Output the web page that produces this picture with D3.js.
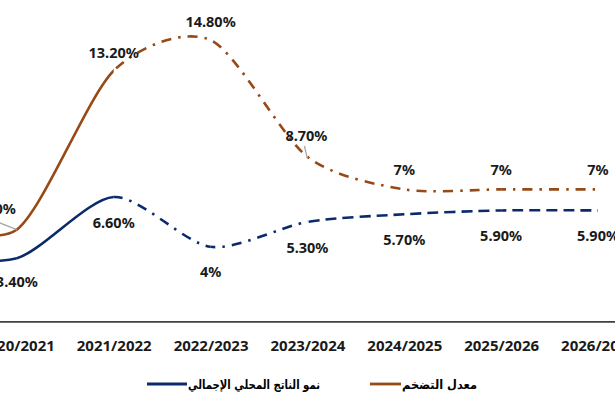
<!DOCTYPE html>
<html><head><meta charset="utf-8">
<script src="https://cdn.jsdelivr.net/npm/d3@7"></script>
<style>html,body{margin:0;padding:0;background:#fff;overflow:hidden}</style>
</head><body>
<svg id="c" width="615" height="410"></svg>
<script>
// Data (first category lies outside the visible crop)
const categories = ["2019/2020","2020/2021","2021/2022","2022/2023","2023/2024","2024/2025","2025/2026","2026/2027"];
const inflation = [5.7, 4.9, 13.2, 14.8, 8.7, 7, 7, 7];
const gdp = [3.6, 3.4, 6.6, 4, 5.3, 5.7, 5.9, 5.9];
const inflationLabels = [null, "4.90%", "13.20%", "14.80%", "8.70%", "7%", "7%", "7%"];
const gdpLabels = [null, "3.40%", "6.60%", "4%", "5.30%", "5.70%", "5.90%", "5.90%"];
const seriesNames = ["معدل التضخم", "نمو الناتج المحلي الإجمالي"];
// segment styles (segment i goes from category i to i+1)
const inflationStyles = ["solid","solid","dashdot","dashdot","dashdot","dashdot","dashdot"];
const gdpStyles = ["solid","solid","dashdot","dashdot","dash","dash","dash"];

const W = 615, H = 410;
const orange = "#974A16", blue = "#0A2A6B";
const dashes = {solid: null, dashdot: "10 7 2.5 7", dash: "11 6"};

const svg = d3.select("#c");
const x = d3.scalePoint().domain(categories).range([-80, 598]);
const y = d3.scaleLinear().domain([0, 15]).range([323.4, 36.2]);

// axis
const axis = d3.axisBottom(x).tickSize(0).tickPadding(0);
const gx = svg.append("g").attr("transform", `translate(0,${y(0)})`).call(axis);
gx.select(".domain").remove();
gx.selectAll("text").attr("font-family", "'Noto Sans', sans-serif").attr("font-weight", "bold")
  .attr("font-size", "15px").attr("fill", "#1a1a1a").attr("dy", null).attr("y", 28);
svg.append("line").attr("x1", 0).attr("x2", W).attr("y1", y(0) - 1.5).attr("y2", y(0) - 1.5)
  .attr("stroke", "#404040").attr("stroke-width", 1.8);

const defs = svg.append("defs");
for (let i = 0; i < categories.length - 1; i++) {
  defs.append("clipPath").attr("id", "seg" + i).append("rect")
    .attr("x", x(categories[i])).attr("width", x(categories[i + 1]) - x(categories[i]))
    .attr("y", 0).attr("height", H);
}

function drawSeries(vals, styles, color) {
  const line = d3.line().x((d, i) => x(categories[i])).y(d => y(d)).curve(d3.curveCardinal.tension(0.2));
  const d = line(vals);
  styles.forEach((s, i) => {
    svg.append("path").attr("d", d).attr("fill", "none").attr("stroke", color)
      .attr("stroke-width", 2.6).attr("stroke-dasharray", dashes[s])
      .attr("clip-path", `url(#seg${i})`);
  });
}
drawSeries(inflation, inflationStyles, orange);
drawSeries(gdp, gdpStyles, blue);

// leader lines
const leader = "#a6a6a6";
svg.append("line").attr("x1", x(categories[1]) - 18).attr("y1", y(inflation[1]) - 7)
  .attr("x2", x(categories[1])).attr("y2", y(inflation[1])).attr("stroke", leader).attr("stroke-width", 1.3);
svg.append("line").attr("x1", x(categories[4]) - 3).attr("y1", y(inflation[4]) - 11)
  .attr("x2", x(categories[4])).attr("y2", y(inflation[4]) + 2).attr("stroke", leader).attr("stroke-width", 1.3);

// data labels
function label(cx, cy, t) {
  svg.append("text").attr("x", cx).attr("y", cy).attr("text-anchor", "middle")
    .attr("dominant-baseline", "central")
    .attr("font-family", "'Noto Sans', sans-serif").attr("font-weight", "bold").attr("font-size", "14.5px")
    .attr("fill", "#1a1a1a").text(t);
}
const infOff = [null, [-22, -22], [0, -19], [0, -19], [-1, -22], [0, -20], [0, -20], [0, -20]];
const gdpOff = [null, [0, 23], [0, 25], [0, 24], [0, 25], [0, 25], [0, 25], [0, 25]];
categories.forEach((c, i) => {
  if (inflationLabels[i]) label(x(c) + infOff[i][0], y(inflation[i]) + infOff[i][1], inflationLabels[i]);
  if (gdpLabels[i]) label(x(c) + gdpOff[i][0], y(gdp[i]) + gdpOff[i][1], gdpLabels[i]);
});

// legend
const ly = 384;
const lg = svg.append("g");
function legText(xr, len, t) {
  lg.append("text").attr("x", xr).attr("y", ly).attr("text-anchor", "end").attr("dominant-baseline", "central")
    .attr("font-family", "'DejaVu Sans', sans-serif").attr("font-weight", "bold").attr("font-size", "12.5px")
    .attr("textLength", len).attr("lengthAdjust", "spacingAndGlyphs")
    .attr("fill", "#000").text(t);
}
legText(477, 75, seriesNames[0]);
lg.append("line").attr("x1", 370).attr("x2", 401).attr("y1", ly).attr("y2", ly).attr("stroke", orange).attr("stroke-width", 2.8);
legText(320, 132, seriesNames[1]);
lg.append("line").attr("x1", 147).attr("x2", 187).attr("y1", ly).attr("y2", ly).attr("stroke", blue).attr("stroke-width", 2.8);
</script>
</body></html>
